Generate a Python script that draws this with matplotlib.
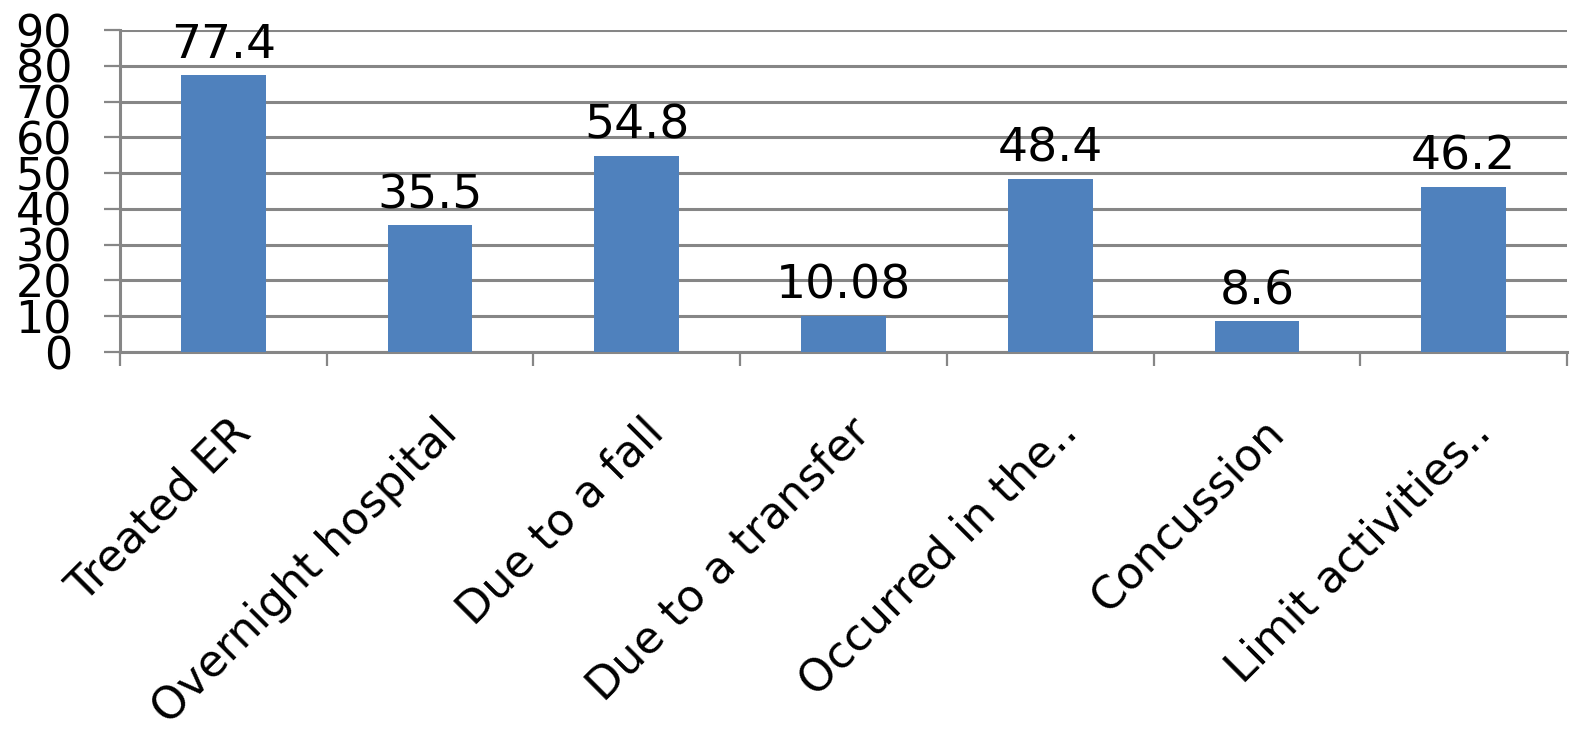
import matplotlib.pyplot as plt
import matplotlib.transforms as mtransforms
import numpy as np

# Data
categories = ['Treated ER', 'Overnight hospital', 'Due to a fall', 'Due to a transfer',
              'Occurred in the..', 'Concussion', 'Limit activities..']
values = [77.4, 35.5, 54.8, 10.08, 48.4, 8.6, 46.2]
value_labels = ['77.4', '35.5', '54.8', '10.08', '48.4', '8.6', '46.2']
y_ticks = [0, 10, 20, 30, 40, 50, 60, 70, 80, 90]

bar_color = '#4F81BD'
grid_color = '#868686'

fig = plt.figure(figsize=(15.87, 7.42), dpi=100)
ax = fig.add_axes([120 / 1587, 1 - 352 / 742, (1567 - 120) / 1587, (352 - 30) / 742])

x = np.arange(len(categories))
bars = ax.bar(x, values, width=0.41, color=bar_color, zorder=3)

# Value labels above bars
ax.bar_label(bars, labels=value_labels, padding=5, fontsize=34, color='black')

# Axes limits and grid
ax.set_xlim(-0.5, len(categories) - 0.5)
ax.set_ylim(0, 90)
ax.set_yticks(y_ticks)
ax.yaxis.grid(True, color=grid_color, linewidth=2.2, zorder=0)
ax.set_axisbelow(True)

# Spines
for side in ['top', 'right']:
    ax.spines[side].set_visible(False)
for side in ['left', 'bottom']:
    ax.spines[side].set_color(grid_color)
    ax.spines[side].set_linewidth(2.2)

# Y ticks (overlapping, as in the original)
ax.tick_params(axis='y', length=11.5, width=1.6, color=grid_color, pad=23,
               labelsize=32, labelcolor='black')

# X ticks: labels at centers, tick marks at category boundaries
ax.set_xticks(x)
ax.set_xticklabels(categories, rotation=45, ha='right', va='top',
                   rotation_mode='anchor', fontsize=32)
ax.set_xticks(np.arange(-0.5, len(categories)), minor=True)
ax.tick_params(axis='x', which='major', length=0, pad=42)
ax.tick_params(axis='x', which='minor', length=10, width=1.6, color=grid_color)

offset = mtransforms.ScaledTranslation(0.05, 0, fig.dpi_scale_trans)
for lab in ax.get_xticklabels():
    lab.set_transform(lab.get_transform() + offset)

fig.savefig('out.png', dpi=100)
